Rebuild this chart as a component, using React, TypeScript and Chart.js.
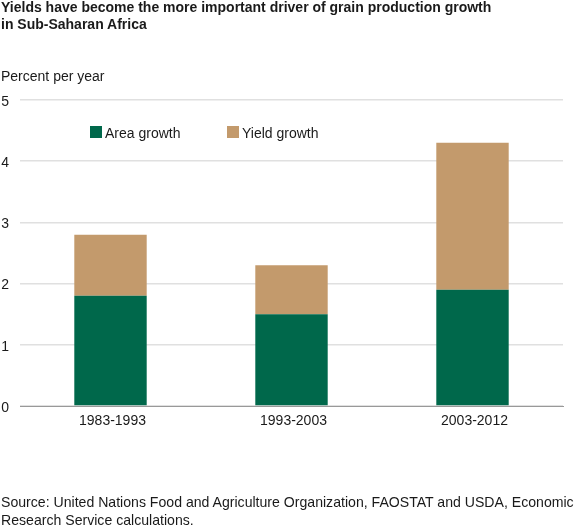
import React, { useEffect, useRef } from 'react';
import { Chart, registerables } from 'chart.js';

Chart.register(...registerables);

const FONT = '"Liberation Sans", Arial, sans-serif';

const periods = ['1983-1993', '1993-2003', '2003-2012'];
const areaGrowth = [1.8, 1.5, 1.9];
const yieldGrowth = [1.0, 0.8, 2.4];
const yTicks = [0, 1, 2, 3, 4, 5];

const titleLines = [
  'Yields have become the more important driver of grain production growth',
  'in Sub-Saharan Africa',
];
const unitLabel = 'Percent per year';
const sourceLines = [
  'Source: United Nations Food and Agriculture Organization, FAOSTAT and USDA, Economic',
  'Research Service calculations.',
];

// legend sits inside the plot, so it is drawn by hand on top of the bars
const insideLegend = {
  id: 'insideLegend',
  afterDraw(chart: any) {
    const { ctx } = chart;
    ctx.save();
    ctx.font = `14px ${FONT}`;
    ctx.textBaseline = 'middle';
    chart.data.datasets.forEach((ds: any, i: number) => {
      const x = i === 0 ? 90 : 227;
      ctx.fillStyle = ds.backgroundColor;
      ctx.fillRect(x, 126, 12, 12);
      ctx.fillStyle = '#1a1a1a';
      ctx.fillText(ds.label, x + 15, 134);
    });
    ctx.restore();
  },
};

const App: React.FC = () => {
  const chartRef = useRef<HTMLCanvasElement>(null);

  useEffect(() => {
    if (!chartRef.current) return;

    const chart = new Chart(chartRef.current, {
      type: 'bar',
      data: {
        labels: periods,
        datasets: [
          { label: 'Area growth', data: areaGrowth, backgroundColor: '#00684B', barPercentage: 0.4, categoryPercentage: 1 },
          { label: 'Yield growth', data: yieldGrowth, backgroundColor: '#C39A6C', barPercentage: 0.4, categoryPercentage: 1 },
        ],
      },
      options: {
        animation: false,
        responsive: false,
        layout: { padding: { left: 0, right: 15, top: 100, bottom: 100 } },
        plugins: {
          legend: { display: false },
          tooltip: { enabled: false },
        },
        scales: {
          x: {
            stacked: true,
            grid: { display: false },
            border: { color: '#999999', width: 1 },
            afterFit: (axis: any) => {
              axis.height = 21;
            },
            ticks: { color: '#1a1a1a', font: { family: FONT, size: 14 }, padding: -1, labelOffset: 2 },
          },
          y: {
            stacked: true,
            min: 0,
            max: 5,
            afterBuildTicks: (axis: any) => {
              axis.ticks = yTicks.map((value) => ({ value }));
            },
            afterFit: (axis: any) => {
              axis.width = 20;
            },
            grid: { color: '#e0e0e0', lineWidth: 1.5, drawTicks: false },
            border: { display: false },
            ticks: { color: '#1a1a1a', font: { family: FONT, size: 14 }, padding: 11, labelOffset: 2 },
          },
        },
      },
      plugins: [insideLegend],
    });

    return () => chart.destroy();
  }, []);

  return (
    <div style={{ position: 'absolute', left: 0, top: 0, width: 578, height: 527, fontFamily: FONT, color: '#1a1a1a' }}>
      <canvas ref={chartRef} width={578} height={527} style={{ position: 'absolute', left: 0, top: 0 }} />
      <div style={{ position: 'absolute', left: 1, top: -1, fontSize: 14, fontWeight: 700, lineHeight: '17px', whiteSpace: 'nowrap' }}>
        {titleLines.map((line) => <div key={line}>{line}</div>)}
      </div>
      <div style={{ position: 'absolute', left: 1, top: 67, fontSize: 14, lineHeight: '18px', whiteSpace: 'nowrap' }}>{unitLabel}</div>
      <div style={{ position: 'absolute', left: 1, top: 493, fontSize: 14.1, lineHeight: '18px', whiteSpace: 'nowrap' }}>
        {sourceLines.map((line) => <div key={line}>{line}</div>)}
      </div>
    </div>
  );
};

export default App;
